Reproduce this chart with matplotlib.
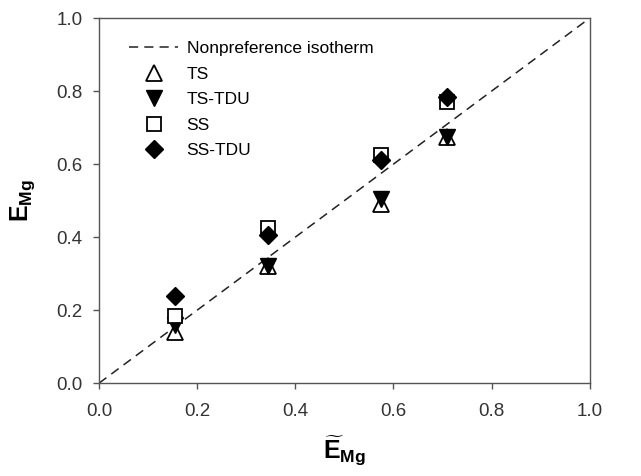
import matplotlib
matplotlib.use("Agg")
import matplotlib.pyplot as plt

plt.rcParams['font.family'] = ['Liberation Sans', 'DejaVu Sans']
plt.rcParams['mathtext.fontset'] = 'custom'
plt.rcParams['mathtext.rm'] = 'Liberation Sans'
plt.rcParams['mathtext.bf'] = 'Liberation Sans:bold'
plt.rcParams['mathtext.it'] = 'Liberation Sans:italic'

x_vals = [0.155, 0.345, 0.575, 0.71]
ts = [0.14, 0.32, 0.49, 0.675]
ts_tdu = [0.16, 0.32, 0.505, 0.675]
ss = [0.185, 0.425, 0.625, 0.77]
ss_tdu = [0.24, 0.405, 0.61, 0.785]
ticks = [0.0, 0.2, 0.4, 0.6, 0.8, 1.0]

fig = plt.figure(figsize=(6.41, 4.76), dpi=100)
ax = fig.add_axes([0.1545, 0.195, 0.7655, 0.767])

ax.plot([0, 1], [0, 1], linestyle=(0, (6, 4)), color='#222222', lw=1.1,
        label='Nonpreference isotherm')
ax.plot(x_vals, ts, linestyle='none', marker='^', ms=11, mfc='white', mec='black',
        mew=1.3, label='TS')
ax.plot(x_vals, ts_tdu, linestyle='none', marker='v', ms=11, mfc='black', mec='black',
        label='TS-TDU')
ax.plot(x_vals, ss, linestyle='none', marker='s', ms=10, mfc='white', mec='black',
        mew=1.3, label='SS')
ax.plot(x_vals, ss_tdu, linestyle='none', marker='D', ms=9.5, mfc='black', mec='black',
        label='SS-TDU')

ax.set_xlim(0, 1)
ax.set_ylim(0, 1)
ax.set_xticks(ticks)
ax.set_yticks(ticks)
ax.set_xticklabels([f'{t:.1f}' for t in ticks])
ax.set_yticklabels([f'{t:.1f}' for t in ticks])
ax.tick_params(direction='out', length=4, width=1, color='#555555',
               labelsize=13.5, labelcolor='#333333')
ax.tick_params(axis='x', pad=10)
ax.tick_params(axis='y', pad=8)
for s in ax.spines.values():
    s.set_color('#555555')
    s.set_linewidth(1.0)

ax.set_xlabel(r'$\mathbf{\widetilde{E}}_{\mathbf{Mg}}$', fontsize=18, labelpad=10)
ax.set_ylabel(r'$\mathbf{E}_{\mathbf{Mg}}$', fontsize=18, labelpad=14)

leg = ax.legend(loc='upper left', frameon=False, fontsize=12.5, handlelength=2.8,
                handletextpad=0.5, labelspacing=0.6, bbox_to_anchor=(0.03, 0.98))

fig.savefig('out.png', dpi=100)
